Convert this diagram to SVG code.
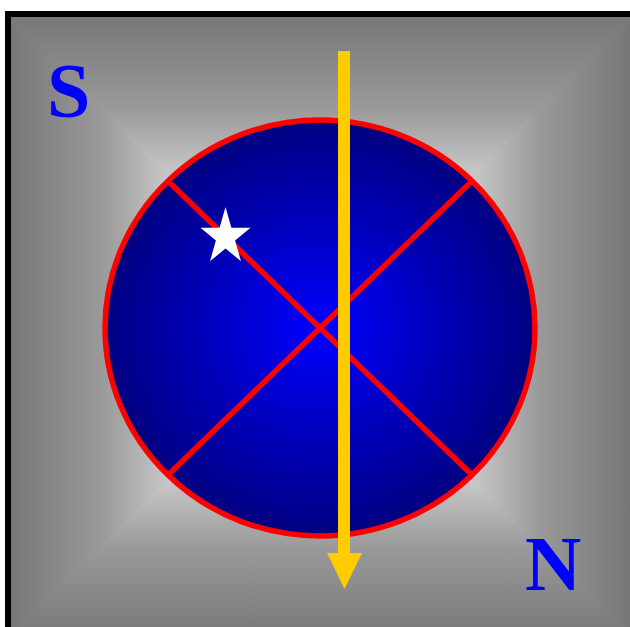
<svg xmlns="http://www.w3.org/2000/svg" width="630" height="627" viewBox="0 0 630 627">
  <style>
    .lbl { font-family: "Liberation Serif", "Times New Roman", serif; font-weight: bold; font-size: 78px; fill: #0000ff; }
    .red { stroke: #ff0000; stroke-width: 5.5; fill: none; }
  </style>
  <defs>
    <linearGradient id="gL" gradientUnits="userSpaceOnUse" x1="11" y1="0" x2="320.5" y2="0">
      <stop offset="0" stop-color="#777"/>
      <stop offset="0.29" stop-color="#999"/>
      <stop offset="0.5" stop-color="#c6c6c6"/>
      <stop offset="1" stop-color="#f0f0f0"/>
    </linearGradient>
    <linearGradient id="gR" gradientUnits="userSpaceOnUse" x1="630" y1="0" x2="320.5" y2="0">
      <stop offset="0" stop-color="#777"/>
      <stop offset="0.29" stop-color="#999"/>
      <stop offset="0.5" stop-color="#c6c6c6"/>
      <stop offset="1" stop-color="#f0f0f0"/>
    </linearGradient>
    <linearGradient id="gT" gradientUnits="userSpaceOnUse" x1="0" y1="17" x2="0" y2="328">
      <stop offset="0" stop-color="#777"/>
      <stop offset="0.29" stop-color="#999"/>
      <stop offset="0.5" stop-color="#c6c6c6"/>
      <stop offset="1" stop-color="#f0f0f0"/>
    </linearGradient>
    <linearGradient id="gB" gradientUnits="userSpaceOnUse" x1="0" y1="639" x2="0" y2="328">
      <stop offset="0" stop-color="#777"/>
      <stop offset="0.29" stop-color="#999"/>
      <stop offset="0.5" stop-color="#c6c6c6"/>
      <stop offset="1" stop-color="#f0f0f0"/>
    </linearGradient>
    <radialGradient id="gBlue" cx="0.5" cy="0.5" r="0.5">
      <stop offset="0" stop-color="#0000ff"/>
      <stop offset="1" stop-color="#000080"/>
    </radialGradient>
  </defs>

  <g id="background">
    <polygon points="11,15 320.5,328 11,641" fill="url(#gL)"/>
    <polygon points="630,15 320.5,328 630,641" fill="url(#gR)"/>
    <polygon points="8,17 633,17 320.5,330.5" fill="url(#gT)"/>
    <polygon points="8,639 633,639 320.5,325.5" fill="url(#gB)"/>
    <rect x="8" y="14" width="625" height="628" fill="none" stroke="#000" stroke-width="6"/>
  </g>

  <g id="globe">
    <ellipse cx="320" cy="328" rx="215" ry="208" class="red" style="fill:url(#gBlue)"/>
    <line x1="168" y1="181" x2="472" y2="475" class="red"/>
    <line x1="472" y1="181" x2="168" y2="475" class="red"/>
  </g>

  <g id="star">
    <polygon fill="#fff" points="225.5,207 231.4,227.7 250.5,227.7 235.1,240.5 241,261.3 225.5,248.5 210,261.3 215.9,240.5 200.5,227.7 219.6,227.7"/>
  </g>

  <g id="connectors">
    <rect x="338" y="51" width="12" height="503" fill="#ffcc00"/>
    <polygon points="327,553 362,553 344.5,589" fill="#ffcc00"/>
  </g>

  <g id="label-S"><text class="lbl" x="47" y="117">S</text></g>
  <g id="label-N"><text class="lbl" x="525" y="590">N</text></g>
</svg>
